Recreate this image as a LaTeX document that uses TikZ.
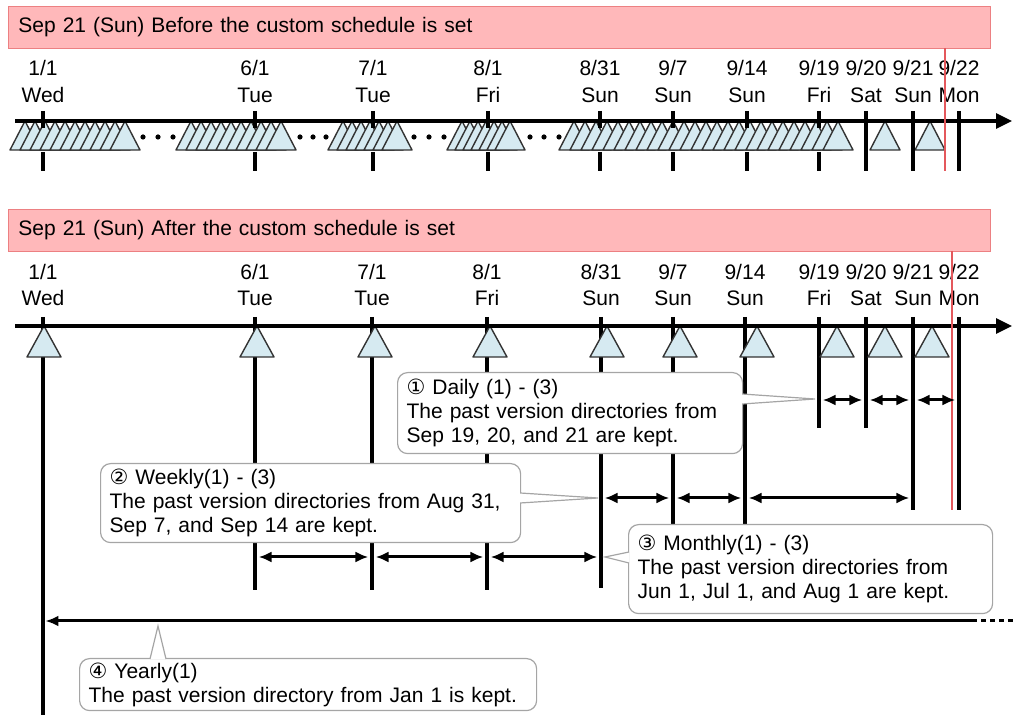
\documentclass[tikz,border=0pt]{standalone}
\usepackage{fontspec}
\setmainfont{Liberation Sans}
\newfontfamily\symfont{DejaVu Sans}
\usetikzlibrary{positioning,arrows.meta,calc}

\definecolor{hdrfill}{RGB}{255,184,186}
\definecolor{hdrline}{RGB}{236,128,130}
\definecolor{nowred}{RGB}{228,88,92}
\definecolor{snapfill}{RGB}{214,234,241}
\definecolor{calloutgray}{RGB}{165,165,165}

\begin{document}
\begin{tikzpicture}[x=0.5pt, y=-0.5pt,
    font=\fontsize{10.5}{12}\selectfont,
    >={Latex[length=6.5pt,width=5.5pt]},
    header/.style={draw=hdrline, fill=hdrfill, anchor=north west, minimum width=491pt, minimum height=21pt, text width=481pt, inner xsep=5pt, align=left},
    callout/.style={draw=calloutgray, fill=white, rounded corners=5pt, line width=0.6pt, anchor=north west, inner xsep=4.5pt, inner ysep=1pt, align=left},
    pointer/.style={draw=calloutgray, fill=white, line width=0.6pt},
    axis/.style={line width=1.6pt, -{Triangle[length=8pt,width=7.5pt]}},
    tick/.style={line width=1.8pt},
    snap/.style={draw=black!80, fill=snapfill, line width=0.7pt, line join=round},
    span/.style={<->, line width=1.5pt, shorten <=1.8pt, shorten >=1.8pt},
    nowline/.style={draw=nowred, line width=1.1pt}
  ]
  \useasboundingbox (0,0) rectangle (1018,715);

  % Panel 1 - before the custom schedule
  \node[header] (hdrbefore) at (8,6) {Sep 21 (Sun) Before the custom schedule is set};

  \foreach \x/\dat/\wkd/\n in {43/{1/1}/Wed/jan1, 255/{6/1}/Tue/jun1, 373/{7/1}/Tue/jul1, 488/{8/1}/Fri/aug1,
      600/{8/31}/Sun/aug31, 673/{9/7}/Sun/sep7, 747/{9/14}/Sun/sep14, 819/{9/19}/Fri/sep19,
      866/{9/20}/Sat/sep20, 913/{9/21}/Sun/sep21, 959/{9/22}/Mon/sep22} {
    \node (top-\n) at (\x,68) {\dat};
    \node (topday-\n) at (\x,95) {\wkd};
  }

  % snapshots taken every day (overlapping)
  \foreach \a in {25,35,...,125} \filldraw[snap] ({\a-15},150) -- (\a,121) -- ({\a+15},150) -- cycle;
  \foreach \a in {191,201,...,281} \filldraw[snap] ({\a-15},150) -- (\a,121) -- ({\a+15},150) -- cycle;
  \foreach \a in {343,352,...,397} \filldraw[snap] ({\a-15},150) -- (\a,121) -- ({\a+15},150) -- cycle;
  \foreach \a in {462,470,...,510} \filldraw[snap] ({\a-15},150) -- (\a,121) -- ({\a+15},150) -- cycle;
  \foreach \a in {574,585,...,838} \filldraw[snap] ({\a-15},150) -- (\a,121) -- ({\a+15},150) -- cycle;
  \foreach \a in {885,930} \filldraw[snap] ({\a-15},150) -- (\a,121) -- ({\a+15},150) -- cycle;

  \foreach \x in {143,158,173, 300,313,326, 414,429,444, 530,544,559}
    \fill (\x,137) circle (1.3pt);

  \draw[axis] (15,121) -- (1012,121);
  \foreach \x in {43,255,373,488,600,673,747,819} {
    \draw[tick] (\x,111) -- (\x,128);
    \draw[tick] (\x,152) -- (\x,171);
  }
  \foreach \x in {866,913,959} \draw[tick] (\x,111) -- (\x,171);
  \draw[nowline] (945,48) -- (945,171);

  % Panel 2 - after the custom schedule
  \node[header] (hdrafter) at (8,209) {Sep 21 (Sun) After the custom schedule is set};

  \foreach \x/\dat/\wkd/\n in {43/{1/1}/Wed/jan1, 255/{6/1}/Tue/jun1, 372/{7/1}/Tue/jul1, 487/{8/1}/Fri/aug1,
      601/{8/31}/Sun/aug31, 673/{9/7}/Sun/sep7, 745/{9/14}/Sun/sep14, 819/{9/19}/Fri/sep19,
      866/{9/20}/Sat/sep20, 913/{9/21}/Sun/sep21, 959/{9/22}/Mon/sep22} {
    \coordinate (\n) at (\x,326);
    \node (bot-\n) at (\x,272) {\dat};
    \node (botday-\n) at (\x,298) {\wkd};
  }
  \coordinate (dayrow) at (0,400);
  \coordinate (weekrow) at (0,498);
  \coordinate (monrow) at (0,557);
  \coordinate (yearrow) at (0,621);

  % kept generations
  \foreach \n/\yb in {jan1/715, jun1/590, jul1/590, aug1/590, aug31/588, sep7/540, sep14/540,
      sep19/428, sep20/428, sep21/510, sep22/510}
    \draw[tick] ([yshift=4.5pt]\n) -- (\n |- 0,\yb);

  \foreach \a in {44,257,375,490,607,680,757,837,885,932}
    \filldraw[snap] ({\a-17},357) -- (\a,326) -- ({\a+17},357) -- cycle;
  \draw[axis] (15,326) -- (1012,326);
  \draw[nowline] (952,251) -- (952,510);

  % Callouts
  \node[callout, minimum width=172.5pt, minimum height=40.5pt, text width=163.5pt] (daily) at (397,372)
    {{\symfont ①} Daily (1) - (3)\\The past version directories from\\Sep 19, 20, and 21 are kept.};
  \node[callout, minimum width=210pt, minimum height=39.5pt, text width=201pt] (weekly) at (100,463)
    {{\symfont ②} Weekly(1) - (3)\\The past version directories from Aug 31,\\Sep 7, and Sep 14 are kept.};
  \node[callout, minimum width=182pt, minimum height=44.5pt, text width=173pt] (monthly) at (628,524)
    {{\symfont ③} Monthly(1) - (3)\\The past version directories from\\Jun 1, Jul 1, and Aug 1 are kept.};
  \node[callout, minimum width=228.5pt, minimum height=26pt, text width=219.5pt] (yearly) at (79,658)
    {{\symfont ④} Yearly(1)\\The past version directory from Jan 1 is kept.};

  \coordinate (dailytip) at (815,399);
  \coordinate (weeklytip) at (598,498);
  \coordinate (monthlytip) at (605,557);
  \coordinate (yearlytip) at (158,626);
  \path[pointer] ($(daily.north east)+(-1,22)$) -- (dailytip) -- ($(daily.north east)+(-1,32)$);
  \path[pointer] ($(weekly.north east)+(-1,30)$) -- (weeklytip) -- ($(weekly.north east)+(-1,40)$);
  \path[pointer] ($(monthly.north west)+(1,28)$) -- (monthlytip) -- ($(monthly.north west)+(1,39)$);
  \path[pointer] ($(yearly.north west)+(71,1)$) -- (yearlytip) -- ($(yearly.north west)+(87,1)$);

  % Retention spans
  \draw[span] (sep19 |- dayrow) -- (sep20 |- dayrow);
  \draw[span] (sep20 |- dayrow) -- (sep21 |- dayrow);
  \draw[span] (sep21 |- dayrow) -- (sep22 |- dayrow);
  \draw[span] (aug31 |- weekrow) -- (sep7 |- weekrow);
  \draw[span] (sep7 |- weekrow) -- (sep14 |- weekrow);
  \draw[span] (sep14 |- weekrow) -- (sep21 |- weekrow);
  \draw[span] (jun1 |- monrow) -- (jul1 |- monrow);
  \draw[span] (jul1 |- monrow) -- (aug1 |- monrow);
  \draw[span] (aug1 |- monrow) -- (aug31 |- monrow);

  \coordinate (yearend) at (972,621);
  \coordinate (yearfar) at (1015,621);
  \draw[line width=1.5pt, ->, shorten >=1.2pt] (yearend) -- (jan1 |- yearrow);
  \draw[line width=1.5pt, dash pattern=on 2.5pt off 2pt] (yearend) -- (yearfar);
\end{tikzpicture}
\end{document}
